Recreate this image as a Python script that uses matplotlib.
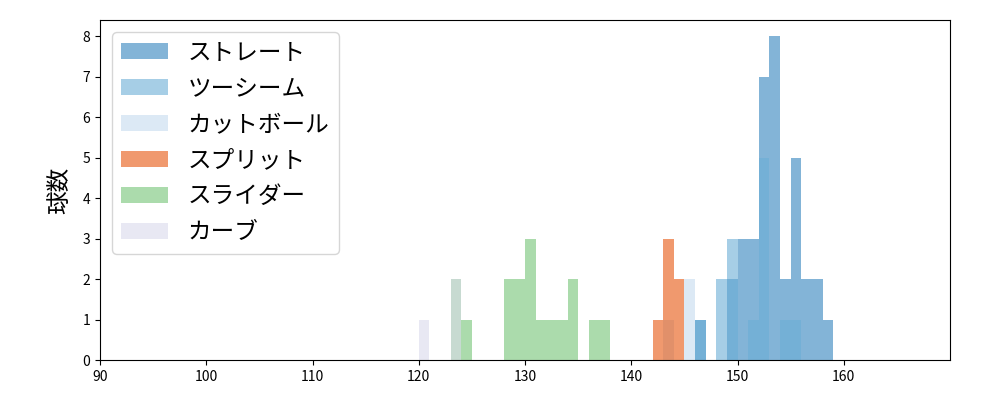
import numpy as np
import matplotlib.pyplot as plt

plt.rcParams['font.family'] = ['Noto Sans CJK JP', 'DejaVu Sans']

# pitch types in drawing order
pitch_names = ['ストレート', 'ツーシーム', 'カットボール', 'スプリット', 'スライダー', 'カーブ']
pitch_colors = ['#3182bd', '#6baed6', '#c6dbef', '#e6550d', '#74c476', '#dadaeb']

# speed bins (km/h, left edge) and pitch counts
straight_speed = [146, 149, 150, 151, 152, 153, 154, 155, 156, 157, 158]
straight_count = [1, 2, 3, 3, 7, 8, 2, 5, 2, 2, 1]

twoseam_speed = [146, 148, 149, 151, 152, 154, 155]
twoseam_count = [1, 2, 3, 1, 5, 1, 1]

cutter_speed = [143, 145]
cutter_count = [1, 2]

split_speed = [142, 143, 144]
split_count = [1, 3, 2]

slider_speed = [123, 124, 128, 129, 130, 131, 132, 133, 134, 136, 137]
slider_count = [2, 1, 2, 2, 3, 1, 1, 1, 2, 1, 1]

curve_speed = [120, 123]
curve_count = [1, 2]

series = [
    (straight_speed, straight_count),
    (twoseam_speed, twoseam_count),
    (cutter_speed, cutter_count),
    (split_speed, split_count),
    (slider_speed, slider_count),
    (curve_speed, curve_count),
]

bins = np.arange(90, 171, 1)

fig, ax = plt.subplots(figsize=(10, 4), dpi=100)
fig.subplots_adjust(left=0.1, right=0.95, bottom=0.1, top=0.95)

for (speed, count), name, color in zip(series, pitch_names, pitch_colors):
    ax.hist(speed, bins=bins, weights=count, color=color, alpha=0.6, label=name)

ax.set_xlim(90, 170)
ax.set_xticks(np.arange(90, 170, 10))
ax.set_ylabel('球数', fontsize=17, labelpad=8)
ax.legend(loc='upper left', fontsize=17, labelspacing=0.55)

fig.savefig('out.png')
